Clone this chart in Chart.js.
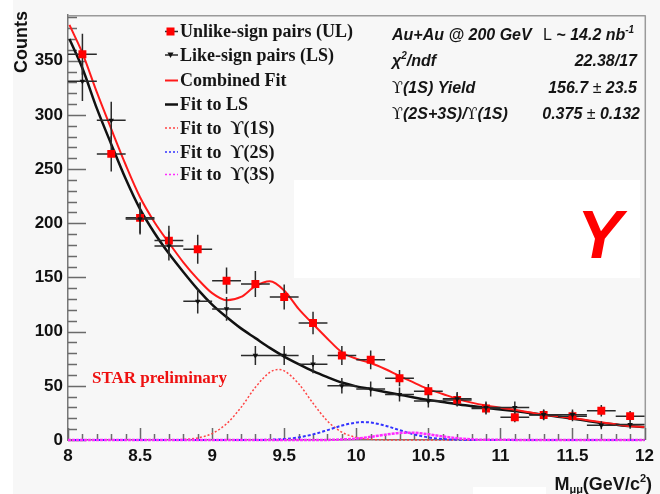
<!DOCTYPE html>
<html>
<head>
<meta charset="utf-8">
<script src="https://cdn.jsdelivr.net/npm/chart.js@4.4.1/dist/chart.umd.min.js"></script>
<style>
  html, body { margin: 0; padding: 0; background: #f7f7f7; }
  #wrap { width: 660px; height: 494px; }
  canvas { display: block; }
</style>
</head>
<body>
<div id="wrap"><canvas id="c" width="660" height="494"></canvas></div>
<script>
// Dimuon invariant-mass histogram, 0.2 GeV/c^2 bins
const binCenters = [8.1, 8.3, 8.5, 8.7, 8.9, 9.1, 9.3, 9.5, 9.7, 9.9, 10.1, 10.3, 10.5, 10.7, 10.9, 11.1, 11.3, 11.5, 11.7, 11.9];
const binHalfWidth = 0.1;
const ulCounts = [356, 264, 205, 184, 176, 147, 144, 132, 108, 78, 74, 57, 45, 37, 29, 21, 23, 22, 27, 22];
const ulErrors = [18.9, 16.2, 14.3, 13.6, 13.3, 12.1, 12.0, 11.5, 10.4, 8.8, 8.6, 7.5, 6.7, 6.1, 5.4, 4.6, 4.8, 4.7, 5.2, 4.7];
const lsCounts = [331, 295, 204, 179, 128, 121, 78, 78, 70, 50, 47, 42, 36, 38, 30, 30, 23.4, 23.4, 13.6, 14.2];
const lsErrors = [18.2, 17.2, 14.3, 13.4, 11.3, 11.0, 8.8, 8.8, 8.4, 7.1, 6.9, 6.5, 6.0, 6.2, 5.5, 5.5, 4.8, 4.8, 3.7, 3.8];

// Fit curves sampled along the mass axis
const fitMass = [8.01, 8.1, 8.2, 8.3, 8.4, 8.5, 8.6, 8.7, 8.8, 8.9, 9.0, 9.1, 9.2, 9.3, 9.4, 9.5, 9.6, 9.7, 9.8, 9.9, 10.0,
                 10.1, 10.2, 10.3, 10.4, 10.5, 10.6, 10.7, 10.8, 10.9, 11.0, 11.1, 11.2, 11.3, 11.4, 11.5, 11.6, 11.7, 11.8, 11.9, 12.0];
const combinedFit = [383, 357, 321, 287, 254, 224, 201, 182, 164, 148.5, 135.5, 129, 132, 142, 146.5, 138, 121, 107, 93.5, 81, 75,
                     71, 65.5, 59, 53, 47, 42.5, 38, 34.5, 31.8, 29.7, 27.9, 25.6, 23.3, 21.8, 20.3, 18.3, 16.4, 14.5, 12.7, 12];
const lsFit = [370, 343, 306, 273, 241, 213, 191, 172, 155, 139, 125, 113.5, 103, 94, 85, 77, 70, 63.5, 58, 53, 49.5,
               47, 44.3, 41.8, 39.3, 37, 35, 33, 31.3, 29.7, 28.2, 26.7, 25, 23.3, 21.5, 19.7, 17.7, 15.8, 14.2, 12.8, 12];

const mass1S = [8.0, 8.7, 8.8, 8.9, 9.0, 9.1, 9.2, 9.3, 9.4, 9.46, 9.5, 9.6, 9.7, 9.8, 9.9, 10.0, 10.1, 10.2, 10.3, 12.0];
const fit1S  = [0, 0, 0.5, 1.9, 5.9, 15, 30, 48.6, 62.4, 65, 63.8, 52, 33.9, 17.5, 7.2, 2.4, 0.6, 0.1, 0, 0];
const mass2S = [8.0, 9.3, 9.4, 9.5, 9.6, 9.7, 9.8, 9.9, 10.0, 10.04, 10.1, 10.2, 10.3, 10.4, 10.5, 10.6, 10.7, 10.8, 12.0];
const fit2S  = [0, 0, 0.3, 0.9, 2.4, 5.2, 9.1, 13.3, 16.1, 16.5, 16.1, 13.3, 9.1, 5.2, 2.4, 0.9, 0.3, 0, 0];
const mass3S = [8.0, 9.8, 9.9, 10.0, 10.1, 10.2, 10.3, 10.36, 10.4, 10.5, 10.6, 10.7, 10.8, 10.9, 12.0];
const fit3S  = [0, 0.1, 0.5, 1.3, 2.9, 4.9, 6.5, 6.8, 6.7, 5.3, 3.3, 1.6, 0.6, 0.2, 0];

const xTickValues = [8, 8.5, 9, 9.5, 10, 10.5, 11, 11.5, 12];
const xTickLabels = ['8', '8.5', '9', '9.5', '10', '10.5', '11', '11.5', '12'];
const yTickValues = [0, 50, 100, 150, 200, 250, 300, 350];
const yTickLabels = ['0', '50', '100', '150', '200', '250', '300', '350'];

const legendLabels = ['Unlike-sign pairs (UL)', 'Like-sign pairs (LS)', 'Combined Fit', 'Fit to LS',
                      'Fit to  \u03D2(1S)', 'Fit to  \u03D2(2S)', 'Fit to  \u03D2(3S)'];

const pts = (xs, ys) => xs.map((x, i) => ({ x: x, y: ys[i] }));

const RED = '#ff1a1a';
const MAGENTA = '#ff2bff';
const SANS = "'Liberation Sans', Arial, sans-serif";
const SERIF = "'Liberation Serif', 'DejaVu Serif', serif";

function drawRuns(ctx, runs, x, y, align) {
  let total = 0;
  runs.forEach(r => { ctx.font = r.font; r.w = ctx.measureText(r.text).width; total += r.w; });
  let cx = align === 'right' ? x - total : x;
  ctx.textAlign = 'left';
  ctx.textBaseline = 'alphabetic';
  runs.forEach(r => {
    ctx.font = r.font;
    ctx.fillStyle = r.color || '#151515';
    ctx.fillText(r.text, cx, y + (r.dy || 0));
    cx += r.w;
  });
}

const frame = {
  id: 'frame',
  beforeDraw(chart) {
    const ctx = chart.ctx;
    ctx.save();
    ctx.fillStyle = '#f7f7f7';
    ctx.fillRect(0, 0, chart.width, chart.height);
    ctx.fillStyle = '#ffffff';
    ctx.fillRect(0, 0, 13, chart.height);
    ctx.fillRect(473, 487, 73, 7);
    ctx.restore();
  },
  beforeDatasetsDraw(chart) {
    const ctx = chart.ctx;
    const a = chart.chartArea;
    const xs = chart.scales.x, ys = chart.scales.y;
    ctx.save();
    // blank panel inside the frame
    ctx.fillStyle = '#ffffff';
    ctx.fillRect(294, 180, 346, 98);
    // top and right frame lines
    ctx.strokeStyle = '#9a9a9a';
    ctx.lineWidth = 1.5;
    ctx.beginPath();
    ctx.moveTo(a.left, a.top + 0.5); ctx.lineTo(a.right + 0.75, a.top + 0.5);
    ctx.moveTo(a.right + 0.75, a.top); ctx.lineTo(a.right + 0.75, a.bottom);
    ctx.stroke();
    // inward ticks
    ctx.strokeStyle = '#6a6a6a';
    ctx.lineWidth = 1.5;
    ctx.beginPath();
    for (let i = 0; i <= 40; i++) {
      const v = 8 + i * 0.1;
      const px = Math.round(xs.getPixelForValue(v)) + 0.5;
      const len = (i % 5 === 0) ? 12 : 6;
      ctx.moveTo(px, a.bottom); ctx.lineTo(px, a.bottom - len);
    }
    for (let i = 0; i <= 39; i++) {
      const v = i * 10;
      const py = Math.round(ys.getPixelForValue(v)) + 0.5;
      const len = (i % 5 === 0) ? 18 : 9;
      ctx.moveTo(a.left, py); ctx.lineTo(a.left + len, py);
    }
    ctx.stroke();
    ctx.restore();
  },
  beforeDatasetDraw(chart, args) {
    const ds = chart.data.datasets[args.index];
    if (!ds.errors) return;
    const ctx = chart.ctx;
    const xs = chart.scales.x, ys = chart.scales.y;
    ctx.save();
    ctx.strokeStyle = '#2a2a2a';
    ctx.lineWidth = 1.5;
    ctx.beginPath();
    ds.data.forEach((p, i) => {
      const e = ds.errors[i];
      const py = ys.getPixelForValue(p.y);
      ctx.moveTo(xs.getPixelForValue(p.x - binHalfWidth), py);
      ctx.lineTo(xs.getPixelForValue(p.x + binHalfWidth), py);
      const px = xs.getPixelForValue(p.x);
      ctx.moveTo(px, ys.getPixelForValue(p.y - e));
      ctx.lineTo(px, ys.getPixelForValue(p.y + e));
    });
    ctx.stroke();
    ctx.restore();
  },
  afterDraw(chart) {
    const ctx = chart.ctx;
    ctx.save();

    // axis titles
    ctx.fillStyle = '#111';
    ctx.font = 'bold 18px ' + SANS;
    ctx.translate(22, 11);
    ctx.rotate(-Math.PI / 2);
    ctx.textAlign = 'right';
    ctx.textBaseline = 'middle';
    ctx.fillText('Counts', 0, 0);
    ctx.setTransform(1, 0, 0, 1, 0, 0);

    drawRuns(ctx, [
      { text: 'M', font: 'bold 18px ' + SANS },
      { text: '\u03BC\u03BC', font: 'bold 11px ' + SANS, dy: 3 },
      { text: '(GeV/c', font: 'bold 18px ' + SANS },
      { text: '2', font: 'bold 11px ' + SANS, dy: -8 },
      { text: ')', font: 'bold 18px ' + SANS }
    ], 652, 490, 'right');

    // legend
    const lx0 = 165, lx1 = 178, tx = 180;
    const rows = [31.5, 55, 80.5, 104.5, 128, 152, 174.5];
    const styles = [
      { line: '#2a2a2a', w: 1.5, marker: 'rect' },
      { line: '#2a2a2a', w: 1.5, marker: 'tri' },
      { line: RED, w: 2 },
      { line: '#111', w: 2.5 },
      { line: '#ff4444', w: 1.5, dash: [2, 2] },
      { line: '#3333ff', w: 1.5, dash: [2, 2] },
      { line: MAGENTA, w: 1.5, dash: [2, 2] }
    ];
    rows.forEach((y, i) => {
      const s = styles[i];
      ctx.strokeStyle = s.line;
      ctx.lineWidth = s.w;
      ctx.setLineDash(s.dash || []);
      ctx.beginPath();
      ctx.moveTo(lx0, y); ctx.lineTo(lx1, y);
      ctx.stroke();
      ctx.setLineDash([]);
      if (s.marker === 'rect') {
        ctx.fillStyle = '#ff0000';
        ctx.fillRect(166.5, y - 4, 8, 8);
      } else if (s.marker === 'tri') {
        ctx.fillStyle = '#111';
        ctx.beginPath();
        ctx.moveTo(167.5, y - 2.5); ctx.lineTo(173.5, y - 2.5); ctx.lineTo(170.5, y + 3);
        ctx.closePath(); ctx.fill();
      }
      ctx.fillStyle = '#151515';
      ctx.font = 'bold 18px ' + SERIF;
      ctx.textAlign = 'left';
      ctx.textBaseline = 'middle';
      ctx.fillText(legendLabels[i], tx, y + 1);
    });

    // fit summary
    const SB = 'italic bold 16px ' + SANS;
    const SUP = 'italic bold 10px ' + SANS;
    const REG = '16px ' + SANS;
    const UPS = "16px 'DejaVu Serif', serif";
    drawRuns(ctx, [{ text: 'Au+Au @ 200 GeV', font: SB }], 392, 40, 'left');
    drawRuns(ctx, [{ text: 'L', font: REG }, { text: ' ~ 14.2 nb', font: SB }, { text: '-1', font: SUP, dy: -7 }], 543, 40, 'left');
    drawRuns(ctx, [{ text: '\u03C7', font: SB }, { text: '2', font: SUP, dy: -7 }, { text: '/ndf', font: SB }], 392, 66, 'left');
    drawRuns(ctx, [{ text: '22.38/17', font: SB }], 637, 66, 'right');
    drawRuns(ctx, [{ text: '\u03D2', font: UPS }, { text: '(1S) Yield', font: SB }], 392, 93, 'left');
    drawRuns(ctx, [{ text: '156.7 ', font: SB }, { text: '\u00B1', font: REG }, { text: ' 23.5', font: SB }], 637, 93, 'right');
    drawRuns(ctx, [{ text: '\u03D2', font: UPS }, { text: '(2S+3S)/', font: SB }, { text: '\u03D2', font: UPS }, { text: '(1S)', font: SB }], 392, 119, 'left');
    drawRuns(ctx, [{ text: '0.375 ', font: SB }, { text: '\u00B1', font: REG }, { text: ' 0.132', font: SB }], 640, 119, 'right');

    // labels
    ctx.fillStyle = '#ee1111';
    ctx.font = 'bold 17px ' + SERIF;
    ctx.textAlign = 'left';
    ctx.textBaseline = 'middle';
    ctx.fillText('STAR preliminary', 92, 379);

    ctx.fillStyle = '#ff0000';
    ctx.font = 'italic bold 68px ' + SANS;
    ctx.textBaseline = 'alphabetic';
    ctx.fillText('Y', 577, 258);

    ctx.restore();
  }
};

new Chart(document.getElementById('c'), {
  type: 'scatter',
  data: {
    datasets: [
      { label: 'LS', data: pts(binCenters, lsCounts), errors: lsErrors, order: 0,
        pointStyle: 'triangle', rotation: 180, pointRadius: 3.2, backgroundColor: '#111', borderWidth: 0, showLine: false },
      { label: 'UL', data: pts(binCenters, ulCounts), errors: ulErrors, order: 1,
        pointStyle: 'rect', pointRadius: 5.6, backgroundColor: '#ff0000', borderWidth: 0, showLine: false },
      { label: 'Combined', data: pts(fitMass, combinedFit), order: 2, showLine: true, pointRadius: 0,
        borderColor: RED, borderWidth: 2, cubicInterpolationMode: 'monotone' },
      { label: 'LS fit', data: pts(fitMass, lsFit), order: 3, showLine: true, pointRadius: 0,
        borderColor: '#111', borderWidth: 2.5, cubicInterpolationMode: 'monotone' },
      { label: '3S', data: pts(mass3S, fit3S), order: 4, showLine: true, pointRadius: 0, clip: 4,
        borderColor: MAGENTA, borderWidth: 2.5, borderDash: [3, 1], cubicInterpolationMode: 'monotone' },
      { label: '2S', data: pts(mass2S, fit2S), order: 5, showLine: true, pointRadius: 0, clip: 4,
        borderColor: '#3333ff', borderWidth: 2, borderDash: [3, 2], cubicInterpolationMode: 'monotone' },
      { label: '1S', data: pts(mass1S, fit1S), order: 6, showLine: true, pointRadius: 0, clip: 4,
        borderColor: '#ff4444', borderWidth: 1.5, borderDash: [2, 2], cubicInterpolationMode: 'monotone' }
    ]
  },
  options: {
    responsive: false,
    animation: false,
    devicePixelRatio: 1,
    layout: { padding: { left: 0, top: 9, right: 10, bottom: 0 } },
    plugins: { legend: { display: false }, tooltip: { enabled: false } },
    scales: {
      x: {
        type: 'linear', min: 8, max: 12,
        grid: { display: false, drawTicks: false },
        border: { display: true, color: '#777', width: 1.5 },
        ticks: {
          padding: 6, color: '#111', maxRotation: 0,
          font: { family: SANS, size: 17, weight: 'bold' },
          callback: (v) => { const k = xTickValues.indexOf(v); return k >= 0 ? xTickLabels[k] : ''; }
        },
        afterBuildTicks: (s) => { s.ticks = xTickValues.map(v => ({ value: v })); },
        afterFit: (s) => { s.height = 54; }
      },
      y: {
        type: 'linear', min: 0, max: 392,
        grid: { display: false, drawTicks: false },
        border: { display: true, color: '#777', width: 1.5 },
        ticks: {
          padding: 5, color: '#111',
          font: { family: SANS, size: 17, weight: 'bold' },
          callback: (v) => { const k = yTickValues.indexOf(v); return k >= 0 ? yTickLabels[k] : ''; }
        },
        afterBuildTicks: (s) => { s.ticks = yTickValues.map(v => ({ value: v })); },
        afterFit: (s) => { s.width = 68; }
      }
    }
  },
  plugins: [frame]
});
</script>
</body>
</html>
